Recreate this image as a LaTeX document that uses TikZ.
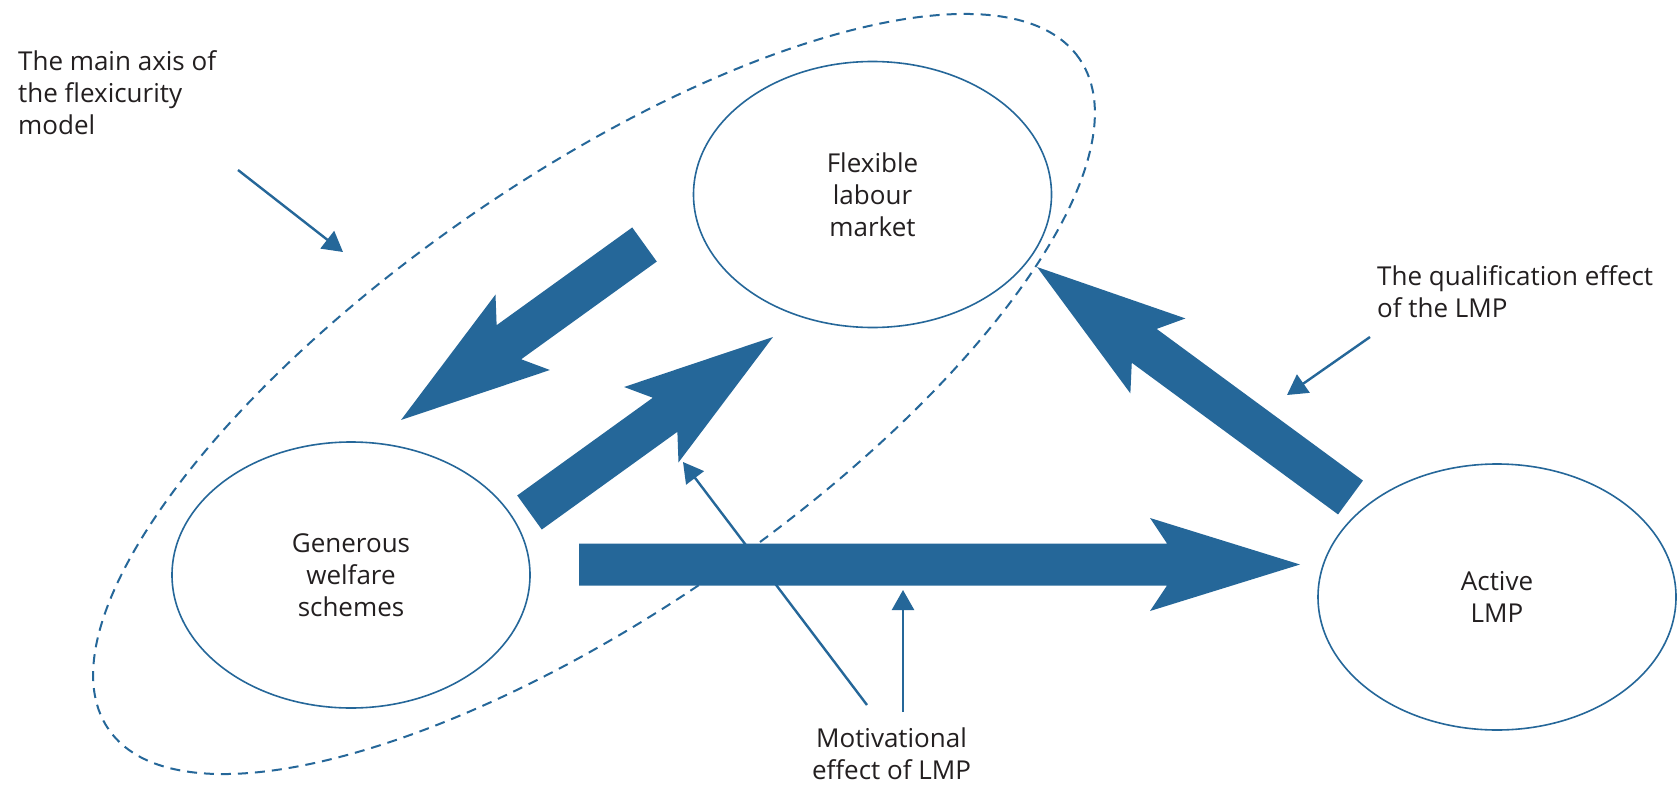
\documentclass[tikz,border=0pt]{standalone}
\usepackage{fontspec}
\setmainfont{Open Sans}
\usetikzlibrary{arrows.meta,shapes.geometric,calc}
\definecolor{lmpblue}{RGB}{37,103,153}
\definecolor{txtgrey}{RGB}{35,31,32}
\newcommand{\fsz}{\fontsize{26}{32}\selectfont}
\newcommand{\bkw}{21}
\newcommand{\bkh}{46.5}
\newcommand{\bkL}{150}
\newcommand{\bkn}{17}
% block arrow from tail coordinate #1 to tip coordinate #2
\newcommand{\blockarrow}[2]{%
  \fill[lmpblue] let \p1=(#1), \p2=(#2),
    \n1={atan2(\y2-\y1,\x2-\x1)}, \n2={veclen(\x2-\x1,\y2-\y1)}
  in [shift={(\p1)}, rotate=\n1]
    (0,\bkw) -- (\n2-\bkL+\bkn,\bkw) -- (\n2-\bkL,\bkh) -- (\n2,0)
    -- (\n2-\bkL,-\bkh) -- (\n2-\bkL+\bkn,-\bkw) -- (0,-\bkw) -- cycle;}
\begin{document}
\begin{tikzpicture}[x=1pt,y=1pt,
  state/.style={draw=lmpblue, line width=1.6pt, ellipse, minimum width=358pt,
    minimum height=266pt, inner sep=0pt, align=center, text=txtgrey, font=\fsz},
  note/.style={text=txtgrey, font=\fsz, inner sep=0pt},
  callout/.style={draw=lmpblue, line width=2.4pt, -{Triangle[length=20pt,width=22pt]}},
  axisline/.style={draw=lmpblue, line width=2pt, dash pattern=on 10pt off 7pt}]
\useasboundingbox (0,0) rectangle (1679,-787);
\fill[white] (0,0) rectangle (1679,-787);

% dashed main axis
\node[axisline, ellipse, rotate=34.65, minimum width=1180pt, minimum height=434pt,
  inner sep=0pt] (axis) at (594,-394) {};

% ellipses
\node[state] (flex) at (872.5,-194.5) {Flexible\\labour\\market};
\node[state] (gen) at (351,-575) {Generous\\welfare\\schemes};
\node[state] (act) at (1497,-597) {Active\\LMP};

% texts
\node[note, align=left, anchor=north west] (axislabel) at (18,-50.5)
  {The main axis of\\the flexicurity\\model};
\node[note, align=left, anchor=north west] (quallabel) at (1377,-265)
  {The qualification effect\\of the LMP};
\node[note, align=center, anchor=north] (motlabel) at (891.5,-728)
  {Motivational\\effect of LMP};

% coordinates
\coordinate (a1s) at (644.5,-244.5); \coordinate (a1e) at (401,-420);
\coordinate (a2s) at (529.5,-512.5); \coordinate (a2e) at (773,-337);
\coordinate (a3s) at (579,-564.5);   \coordinate (a3e) at (1300,-564.5);
\coordinate (a4s) at (1350.5,-497.5); \coordinate (a4e) at (1037,-267);
\coordinate (c1s) at (238,-170);  \coordinate (c1e) at (343,-252);
\coordinate (c2s) at (1370,-337); \coordinate (c2e) at (1287,-395);
\coordinate (c3s) at (867,-705);  \coordinate (c3e) at (683,-462);
\coordinate (c4s) at (903,-712);  \coordinate (c4e) at (903,-590);

% callouts
\draw[callout] (c1s) -- (c1e);
\draw[callout] (c2s) -- (c2e);
\draw[callout] (c3s) -- (c3e);
\draw[callout] (c4s) -- (c4e);

% block arrows
\blockarrow{a1s}{a1e}
\blockarrow{a2s}{a2e}
\blockarrow{a3s}{a3e}
\blockarrow{a4s}{a4e}
\end{tikzpicture}
\end{document}
